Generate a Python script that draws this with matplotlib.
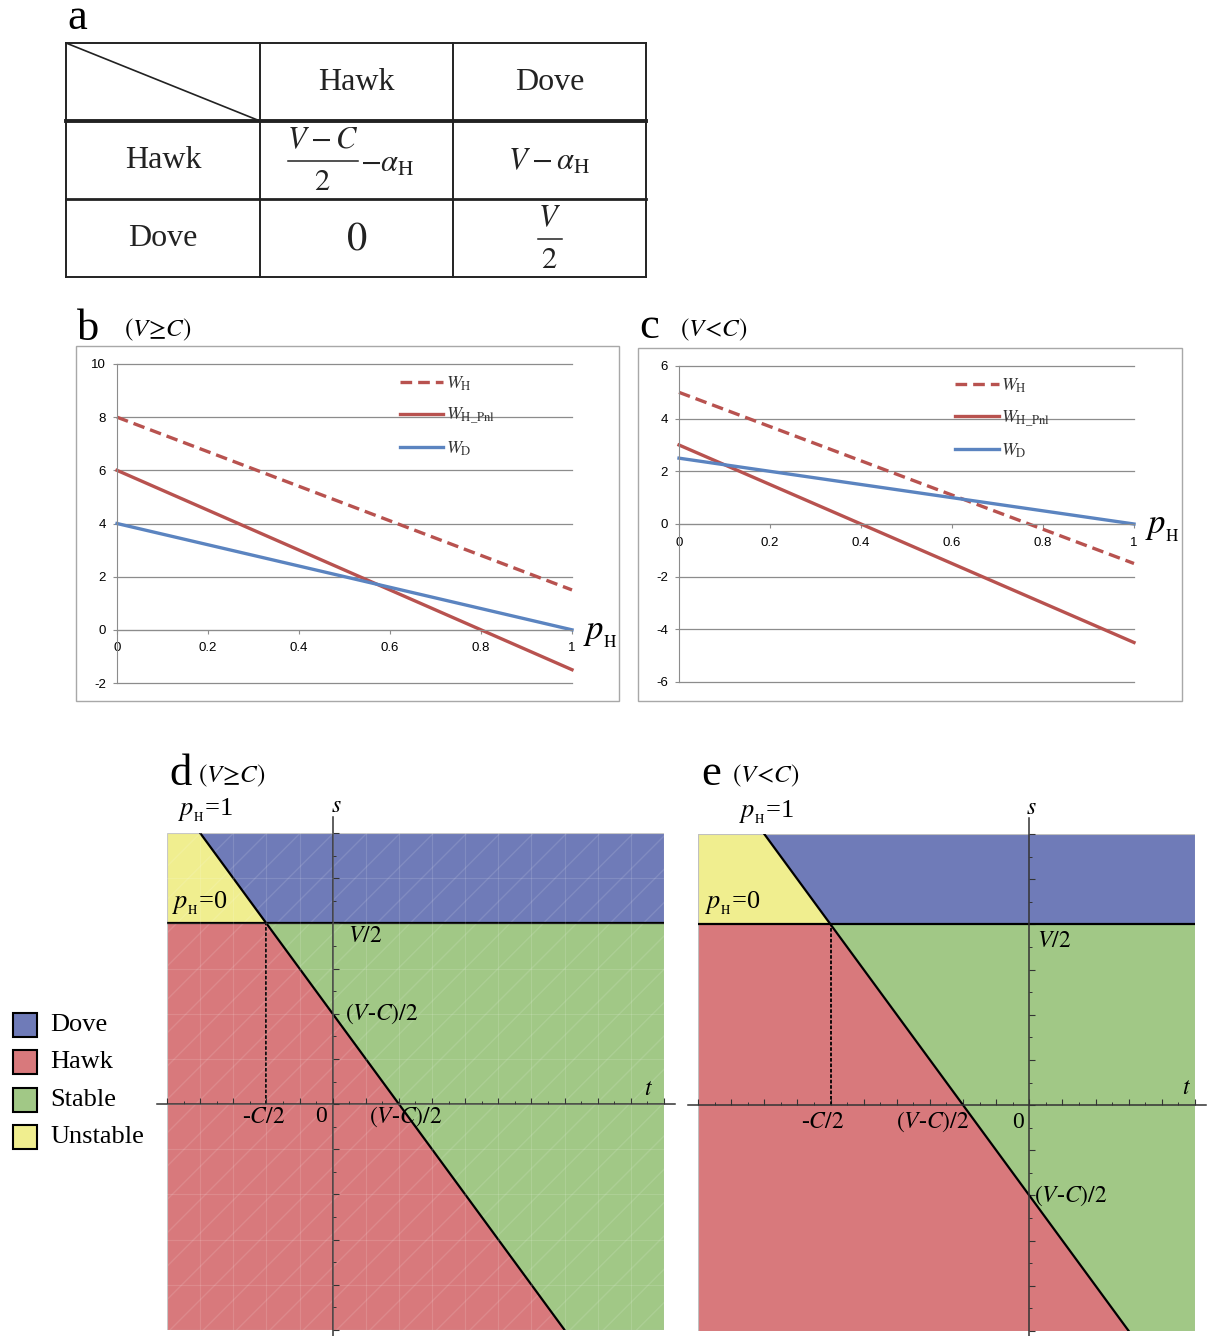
import numpy as np
import matplotlib.pyplot as plt
from matplotlib.patches import Rectangle, Polygon

plt.rcParams['mathtext.fontset'] = 'stix'
plt.rcParams['font.family'] = ['Liberation Serif', 'DejaVu Serif']
plt.rcParams['axes.unicode_minus'] = False

W, H = 1211, 1336

# ---- data ----
row_labels = ['Hawk', 'Dove']
col_labels = ['Hawk', 'Dove']
# payoff cells: (numerator, denominator, trailing term); no denominator -> plain text
payoffs = [[(r'$V-C$', r'$2$', r'$-\alpha_{\mathrm{H}}$'), (r'$V-\alpha_{\mathrm{H}}$', None, '')],
           [(r'$0$', None, ''), (r'$V$', r'$2$', '')]]

p_h = [0, 0.2, 0.4, 0.6, 0.8, 1]
p_labels = ['0', '0.2', '0.4', '0.6', '0.8', '1']

# panel b (V >= C)
wh_b = [8, 6.7, 5.4, 4.1, 2.8, 1.5]
whp_b = [6, 4.5, 3, 1.5, 0, -1.5]
wd_b = [4, 3.2, 2.4, 1.6, 0.8, 0]
# panel c (V < C)
wh_c = [5, 3.7, 2.4, 1.1, -0.2, -1.5]
whp_c = [3, 1.5, 0, -1.5, -3, -4.5]
wd_c = [2.5, 2, 1.5, 1, 0.5, 0]
series_labels = [r'$W_{\mathrm{H}}$', r'$W_{\mathrm{H\_Pnl}}$', r'$W_{\mathrm{D}}$']

# panels d / e: V and C used for the phase regions
V_d, C_d = 4, 2
V_e, C_e = 4, 6
tlim_d, slim_d = (-2.5, 5), (-2.5, 3)
tlim_e, slim_e = (-5, 2.5), (-2.5, 3)

region_names = ['Dove', 'Hawk', 'Stable', 'Unstable']
region_colors = ['#6f7bb8', '#d8797c', '#a1c886', '#f0ee8f']

red = '#b8524f'
blue = '#5b84c0'
ink = '#222222'

fig = plt.figure(figsize=(W / 100, H / 100), dpi=100)


def px_axes(x0, y0, x1, y1):
    return fig.add_axes([x0 / W, 1 - y1 / H, (x1 - x0) / W, (y1 - y0) / H])


cv = px_axes(0, 0, W, H)
cv.set_xlim(0, W)
cv.set_ylim(H, 0)
cv.axis('off')

# ---- a: payoff table ----
tab_x = [66, 260, 453, 646]
tab_y = [43, 121, 199, 277]
for x in tab_x:
    cv.plot([x, x], [tab_y[0], tab_y[-1]], color=ink, lw=1.4)
for i, y in enumerate(tab_y):
    lw = 2.8 if i == 1 else (2.0 if i == 2 else 1.4)
    cv.plot([tab_x[0], tab_x[-1]], [y, y], color=ink, lw=lw)
cv.plot([tab_x[0], tab_x[1]], [tab_y[0], tab_y[1]], color=ink, lw=1.2)

cx = [(tab_x[i] + tab_x[i + 1]) / 2 for i in range(3)]
cy = [(tab_y[i] + tab_y[i + 1]) / 2 for i in range(3)]
for j, lab in enumerate(col_labels):
    cv.text(cx[j + 1], cy[0], lab, fontsize=23, ha='center', va='center', color=ink)
for i, lab in enumerate(row_labels):
    cv.text(cx[0], cy[i + 1], lab, fontsize=23, ha='center', va='center', color=ink)

for i in range(2):
    for j in range(2):
        num, den, tail = payoffs[i][j]
        x, y = cx[j + 1], cy[i + 1]
        if den is None:
            fs = 29 if num == r'$0$' else 22
            cv.text(x, y + 2, num, fontsize=fs, ha='center', va='center', color=ink)
            continue
        half = 35 if tail else 12
        xc = x - 34 if tail else x
        cv.text(xc, y - 19, num, fontsize=22, ha='center', va='center', color=ink)
        cv.plot([xc - half, xc + half], [y + 1, y + 1], color=ink, lw=1.1)
        cv.text(xc, y + 23, den, fontsize=22, ha='center', va='center', color=ink)
        if tail:
            cv.text(xc + half + 2, y + 4, tail, fontsize=22, ha='left', va='center', color=ink)

cv.text(67, 29, 'a', fontsize=32, ha='left', va='baseline')

# ---- b, c: payoff lines ----
cv.add_patch(Rectangle((76, 346), 543, 355, fill=False, ec='#a8a8a8', lw=1))
cv.add_patch(Rectangle((638, 348), 544, 353, fill=False, ec='#a8a8a8', lw=1))
cv.text(77, 340, 'b', fontsize=32, ha='left', va='baseline')
cv.text(124, 336, r'$(V\!\geq\!C)$', fontsize=18, ha='left', va='baseline')
cv.text(639, 338, 'c', fontsize=32, ha='left', va='baseline')
cv.text(680, 336, r'$(V\!<\!C)$', fontsize=18, ha='left', va='baseline')


def line_panel(ax, wh, whp, wd, ylo, yhi, leg_xy):
    l1, = ax.plot(p_h, wh, color=red, lw=2.4, ls=(0, (3.5, 1.8)), clip_on=False)
    l2, = ax.plot(p_h, whp, color=red, lw=2.4, clip_on=False)
    l3, = ax.plot(p_h, wd, color=blue, lw=2.4, clip_on=False)
    ax.set_xlim(0, 1)
    ax.set_ylim(ylo, yhi)
    ax.set_yticks(range(ylo, yhi + 1, 2))
    ax.set_xticks(p_h, p_labels)
    ax.set_facecolor('none')
    ax.yaxis.grid(True, color='#8c8c8c', lw=0.9)
    for gl in ax.get_ygridlines():
        gl.set_clip_on(False)
    ax.set_axisbelow(True)
    for side in ['top', 'right']:
        ax.spines[side].set_visible(False)
    ax.spines['bottom'].set_position(('data', 0))
    ax.spines['left'].set_color('#8c8c8c')
    ax.spines['bottom'].set_color('#8c8c8c')
    ax.tick_params(axis='both', length=3, color='#8c8c8c', labelsize=9.5,
                   labelfontfamily='Liberation Sans')
    ax.tick_params(axis='x', pad=6)
    ax.tick_params(axis='y', pad=5)
    ax.text(1.025, -0.15, r'$p_{_\mathrm{H}}$', fontsize=25, ha='left', va='center')
    ax.legend([l1, l2, l3], series_labels, loc='upper left', bbox_to_anchor=leg_xy,
              frameon=False, fontsize=13, handlelength=2.4, handletextpad=0.15,
              labelspacing=0.72, borderaxespad=0, borderpad=0, labelcolor='#333333')


ax_b = px_axes(117, 364, 572, 683)
line_panel(ax_b, wh_b, whp_b, wd_b, -2, 10, (0.622, 0.968))
ax_c = px_axes(679, 366, 1134, 682)
line_panel(ax_c, wh_c, whp_c, wd_c, -6, 6, (0.607, 0.966))

# ---- d, e: regions ----
cv.text(169, 785, 'd', fontsize=32, ha='left', va='baseline')
cv.text(198, 782, r'$(V\!\geq\!C)$', fontsize=18, ha='left', va='baseline')
cv.text(701, 785, 'e', fontsize=32, ha='left', va='baseline')
cv.text(732, 782, r'$(V\!<\!C)$', fontsize=18, ha='left', va='baseline')


def region_panel(ax, V, C, tlim, slim, offs, mesh=False):
    t0, t1 = tlim
    s0, s1 = slim
    h = V / 2
    k = (V - C) / 2
    tc = k - h
    dove, hawk, stable, unstable = region_colors
    ax.add_patch(Polygon([(t0, h), (tc, h), (k - s1, s1), (t0, s1)], fc=unstable, lw=0))
    ax.add_patch(Polygon([(k - s1, s1), (tc, h), (t1, h), (t1, s1)], fc=dove, lw=0))
    ax.add_patch(Polygon([(t0, s0), (k - s0, s0), (tc, h), (t0, h)], fc=hawk, lw=0))
    ax.add_patch(Polygon([(k - s0, s0), (t1, s0), (t1, h), (tc, h)], fc=stable, lw=0))
    if mesh:
        # faint rendering mesh seen in the original
        ax.add_patch(Rectangle((0, 0), 1, 1, transform=ax.transAxes, fill=False,
                               hatch='/', ec=(1, 1, 1, 0.12), lw=0))
        ax.grid(True, which='major', color='white', alpha=0.13, lw=0.8)
        ax.set_axisbelow(False)
    ax.add_patch(Rectangle((0, 0), 1, 1, transform=ax.transAxes, fill=False,
                           ec='#c0c0c0', lw=0.8))
    ax.plot([t0, t1], [h, h], color='k', lw=1.6)
    ax.plot([k - s1, k - s0], [s1, s0], color='k', lw=1.6)
    ax.plot([tc, tc], [0, h], color='k', lw=1.3, ls=(0, (2, 1)))
    ax.plot([t0 - 0.15, t1 + 0.17], [0, 0], color='#333333', lw=1.1, clip_on=False)
    ax.plot([0, 0], [s0 - 0.2, s1 + 0.18], color='#333333', lw=1.1, clip_on=False)
    ax.set_xlim(t0, t1)
    ax.set_ylim(s0, s1)
    ax.set_facecolor('none')
    for side in ['top', 'right']:
        ax.spines[side].set_visible(False)
    for side in ['left', 'bottom']:
        ax.spines[side].set_position(('data', 0))
        ax.spines[side].set_color('none')
    ax.set_xticks(np.arange(t0, t1 + 0.01, 0.5))
    ax.set_xticks(np.arange(t0 + 0.25, t1, 0.5), minor=True)
    ax.set_yticks(np.arange(s0, s1 + 0.01, 0.5))
    ax.set_yticks(np.arange(s0 + 0.25, s1, 0.5), minor=True)
    ax.tick_params(which='major', direction='in', length=4, width=0.8, color='#333333',
                   labelbottom=False, labelleft=False)
    ax.tick_params(which='minor', direction='in', length=2.5, width=0.7, color='#333333')

    def lab(txt, xy, off, ha='left', fs=17):
        ax.annotate(txt, xy, xytext=off, textcoords='offset pixels', ha=ha,
                    va='center', fontsize=fs, annotation_clip=False)

    lab(r'$p_{_\mathrm{H}}$=1', (k - s1, s1), offs['p1'], fs=19)
    lab(r'$p_{_\mathrm{H}}$=0', (t0, h), offs['p0'], fs=19)
    lab(r'$s$', (0, s1), offs['s'], ha='center')
    lab(r'$t$', (t1, 0), offs['t'], ha='center')
    lab(r'$V/2$', (0, h), offs['vh'])
    lab(r'$(V$-$C)/2$', (0, k), offs['ks'])
    lab(r'-$C/2$', (tc, 0), offs['ct'], ha='center')
    lab('0', (0, 0), offs['o'], ha='center')
    lab(r'$(V$-$C)/2$', (k, 0), offs['kt'], ha='center')


offs_d = dict(p1=(-22, 23), p0=(5, 20), s=(4, 27), t=(-16, 15), vh=(15, -13),
              ks=(12, 0), ct=(-3, -13), o=(-12, -12), kt=(7, -13))
offs_e = dict(p1=(-25, 22), p0=(7, 21), s=(2, 26), t=(-9, 17), vh=(8, -17),
              ks=(5, 0), ct=(-8, -17), o=(-11, -17), kt=(-30, -17))

ax_d = px_axes(167, 833, 664, 1330)
region_panel(ax_d, V_d, C_d, tlim_d, slim_d, offs_d, mesh=True)
ax_e = px_axes(698, 834, 1195, 1331)
region_panel(ax_e, V_e, C_e, tlim_e, slim_e, offs_e)

# ---- region legend ----
leg_y = [1025, 1062, 1100, 1137]
for name, col, y in zip(region_names, region_colors, leg_y):
    cv.add_patch(Rectangle((13, y - 12), 24, 24, fc=col, ec='black', lw=1.5))
    cv.text(50, y, name, fontsize=19, ha='left', va='center')

fig.savefig('out.png', dpi=100)
